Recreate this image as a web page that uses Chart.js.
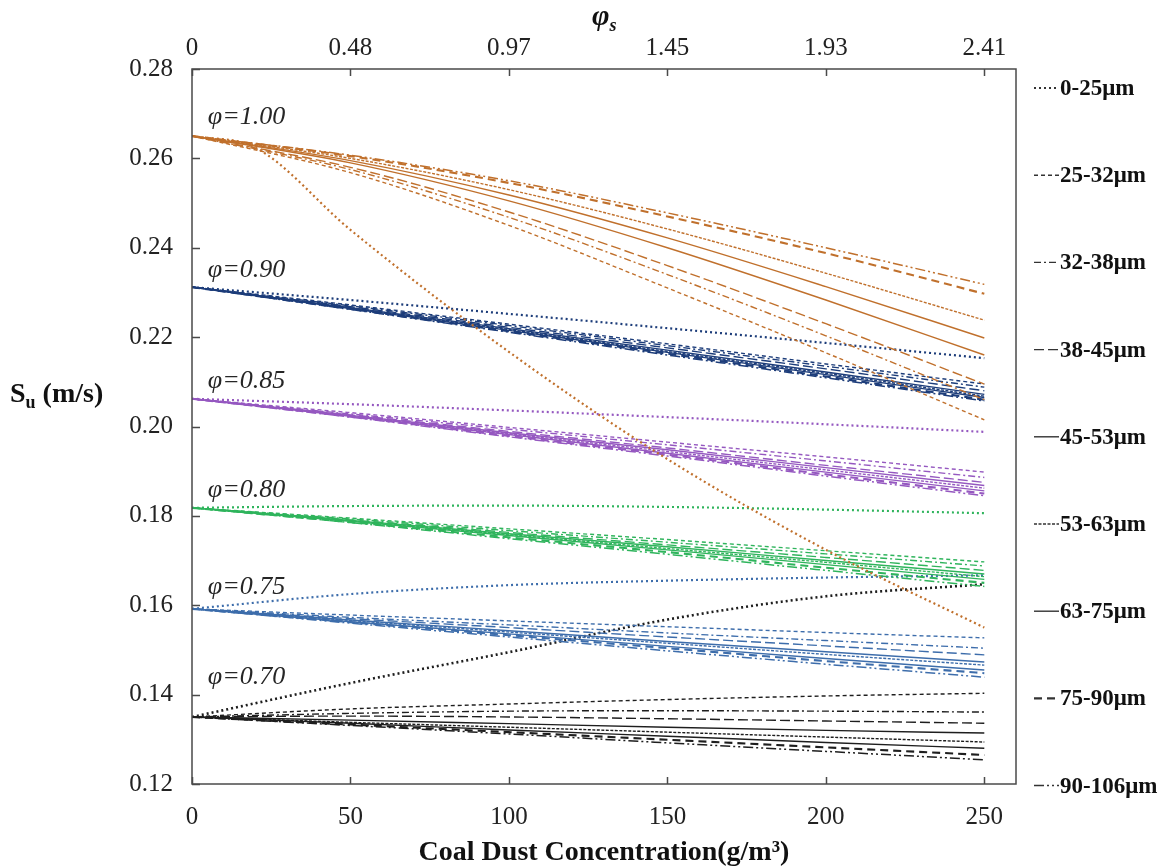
<!DOCTYPE html>
<html>
<head>
<meta charset="utf-8">
<script src="https://cdn.jsdelivr.net/npm/chart.js@4.4.0/dist/chart.umd.min.js"></script>
<style>
  html, body { margin: 0; padding: 0; background: #fff; }
  canvas { display: block; }
</style>
</head>
<body>
<canvas id="suChart" width="1161" height="867"></canvas>
<script>
// Concentration points (g/m3) and the matching phi_s ticks on the top axis
const conc = [0, 50, 100, 150, 200, 250];
const phiSTicks = ['0', '0.48', '0.97', '1.45', '1.93', '2.41'];
const yTicks = [0.12, 0.14, 0.16, 0.18, 0.20, 0.22, 0.24, 0.26, 0.28];

const sizes = ['0-25μm', '25-32μm', '32-38μm', '38-45μm', '45-53μm', '53-63μm', '63-75μm', '75-90μm', '90-106μm'];
const phiNames = ['φ=1.00', 'φ=0.90', 'φ=0.85', 'φ=0.80', 'φ=0.75', 'φ=0.70'];
const phiLabelY = [0.2693, 0.2350, 0.2102, 0.1858, 0.1641, 0.1440];

// the 0-25um curve at phi=1.00 bends early, so it has one extra point
const concFine = [0, 20, 50, 100, 150, 200, 250];
const su100Fine = [0.2650, 0.2624, 0.2440, 0.2167, 0.1927, 0.1724, 0.1550];

// Su (m/s), one row per particle size, columns follow conc
const su100 = [
    [0.2650, 0.2440, 0.2167, 0.1927, 0.1724, 0.1550],
    [0.2650, 0.2568, 0.2450, 0.2310, 0.2165, 0.2015],
    [0.2650, 0.2575, 0.2468, 0.2340, 0.2203, 0.2060],
    [0.2650, 0.2580, 0.2480, 0.2360, 0.2230, 0.2095],
    [0.2650, 0.2590, 0.2505, 0.2400, 0.2283, 0.2160],
    [0.2650, 0.2600, 0.2530, 0.2442, 0.2343, 0.2238],
    [0.2650, 0.2595, 0.2518, 0.2422, 0.2313, 0.2198],
    [0.2650, 0.2605, 0.2545, 0.2470, 0.2388, 0.2297],
    [0.2650, 0.2607, 0.2550, 0.2478, 0.2400, 0.2318]
];
const su090 = [
    [0.2312, 0.2283, 0.2252, 0.2220, 0.2187, 0.2153],
    [0.2312, 0.2272, 0.2229, 0.2185, 0.2140, 0.2095],
    [0.2312, 0.2270, 0.2226, 0.2181, 0.2135, 0.2088],
    [0.2312, 0.2268, 0.2222, 0.2176, 0.2129, 0.2080],
    [0.2312, 0.2266, 0.2219, 0.2171, 0.2122, 0.2072],
    [0.2312, 0.2265, 0.2217, 0.2168, 0.2119, 0.2068],
    [0.2312, 0.2264, 0.2215, 0.2166, 0.2116, 0.2065],
    [0.2312, 0.2263, 0.2213, 0.2163, 0.2112, 0.2060],
    [0.2312, 0.2262, 0.2211, 0.2160, 0.2109, 0.2057]
];
const su085 = [
    [0.2062, 0.2050, 0.2036, 0.2021, 0.2005, 0.1988],
    [0.2062, 0.2031, 0.1998, 0.1965, 0.1932, 0.1898],
    [0.2062, 0.2028, 0.1994, 0.1959, 0.1923, 0.1886],
    [0.2062, 0.2026, 0.1989, 0.1952, 0.1913, 0.1875],
    [0.2062, 0.2025, 0.1986, 0.1948, 0.1908, 0.1868],
    [0.2062, 0.2024, 0.1984, 0.1944, 0.1903, 0.1862],
    [0.2062, 0.2023, 0.1982, 0.1940, 0.1898, 0.1856],
    [0.2062, 0.2022, 0.1979, 0.1937, 0.1893, 0.1850],
    [0.2062, 0.2021, 0.1977, 0.1934, 0.1889, 0.1845]
];
const su080 = [
    [0.1818, 0.1822, 0.1823, 0.1820, 0.1814, 0.1806],
    [0.1818, 0.1795, 0.1771, 0.1747, 0.1722, 0.1697],
    [0.1818, 0.1793, 0.1767, 0.1741, 0.1715, 0.1688],
    [0.1818, 0.1791, 0.1763, 0.1735, 0.1707, 0.1678],
    [0.1818, 0.1790, 0.1760, 0.1731, 0.1700, 0.1670],
    [0.1818, 0.1789, 0.1758, 0.1727, 0.1696, 0.1664],
    [0.1818, 0.1788, 0.1756, 0.1724, 0.1691, 0.1658],
    [0.1818, 0.1786, 0.1752, 0.1719, 0.1684, 0.1650],
    [0.1818, 0.1785, 0.1749, 0.1714, 0.1678, 0.1642]
];
const su075 = [
    [0.1592, 0.1625, 0.1645, 0.1655, 0.1662, 0.1667],
    [0.1592, 0.1578, 0.1565, 0.1552, 0.1539, 0.1527],
    [0.1592, 0.1573, 0.1556, 0.1538, 0.1521, 0.1504],
    [0.1592, 0.1570, 0.1550, 0.1529, 0.1509, 0.1489],
    [0.1592, 0.1567, 0.1543, 0.1519, 0.1496, 0.1473],
    [0.1592, 0.1566, 0.1540, 0.1515, 0.1490, 0.1466],
    [0.1592, 0.1563, 0.1536, 0.1508, 0.1481, 0.1455],
    [0.1592, 0.1562, 0.1533, 0.1504, 0.1475, 0.1448],
    [0.1592, 0.1560, 0.1529, 0.1498, 0.1468, 0.1439]
];
const su070 = [
    [0.1350, 0.1426, 0.1495, 0.1568, 0.1620, 0.1647],
    [0.1350, 0.1368, 0.1379, 0.1389, 0.1397, 0.1403],
    [0.1350, 0.1358, 0.1363, 0.1364, 0.1363, 0.1361],
    [0.1350, 0.1352, 0.1350, 0.1346, 0.1341, 0.1336],
    [0.1350, 0.1343, 0.1335, 0.1327, 0.1320, 0.1314],
    [0.1350, 0.1338, 0.1327, 0.1316, 0.1305, 0.1294],
    [0.1350, 0.1336, 0.1321, 0.1307, 0.1293, 0.1280],
    [0.1350, 0.1333, 0.1316, 0.1299, 0.1282, 0.1265],
    [0.1350, 0.1331, 0.1312, 0.1292, 0.1273, 0.1254]
];

(function () {
    'use strict';

    const FONT = "'Liberation Serif', 'Times New Roman', serif";
    const groups = [su100, su090, su085, su080, su075, su070];
    const groupColors = ['#c0702c', '#1d3d7a', '#9558c0', '#2fb45c', '#3d6dab', '#1e1e1e'];

    // one line style per particle size
    const dashes = [
        [2, 3],
        [4, 3],
        [7, 3, 2, 3],
        [10, 4],
        [],
        [3, 1.5],
        [],
        [8, 5],
        [10, 3, 2, 3, 2, 3]
    ];
    const widths = [2.2, 1.4, 1.4, 1.4, 1.4, 1.4, 1.4, 2.1, 1.5];

    const datasets = [];
    groups.forEach(function (rows, gi) {
        rows.forEach(function (row, si) {
            let pts = row.map(function (v, k) { return { x: conc[k], y: v }; });
            if (gi === 0 && si === 0) {
                pts = su100Fine.map(function (v, k) { return { x: concFine[k], y: v }; });
            }
            datasets.push({
                label: phiNames[gi] + ' ' + sizes[si],
                data: pts,
                borderColor: groupColors[gi],
                borderDash: dashes[si],
                borderWidth: (gi === 5 && si === 0) ? 2.6 : widths[si],
                pointRadius: 0,
                cubicInterpolationMode: 'monotone',
                fill: false
            });
        });
    });

    // frame, inward ticks, phi labels, y title, top title and size legend
    const decorPlugin = {
        id: 'decor',
        afterDraw: function (chart) {
            const ctx = chart.ctx;
            const a = chart.chartArea;
            const sx = chart.scales.x;
            const sy = chart.scales.y;
            ctx.save();

            ctx.strokeStyle = '#4a4a4a';
            ctx.lineWidth = 1.5;
            ctx.setLineDash([]);
            ctx.strokeRect(a.left, a.top, a.right - a.left, a.bottom - a.top);
            ctx.beginPath();
            conc.forEach(function (v) {
                const px = Math.round(sx.getPixelForValue(v)) + 0.5;
                ctx.moveTo(px, a.bottom); ctx.lineTo(px, a.bottom - 7);
                ctx.moveTo(px, a.top); ctx.lineTo(px, a.top + 7);
            });
            yTicks.forEach(function (v) {
                const py = Math.round(sy.getPixelForValue(v)) + 0.5;
                ctx.moveTo(a.left, py); ctx.lineTo(a.left + 8, py);
            });
            ctx.stroke();

            // phi labels
            ctx.fillStyle = '#262626';
            ctx.font = 'italic 26px ' + FONT;
            ctx.textBaseline = 'middle';
            ctx.textAlign = 'left';
            phiNames.forEach(function (name, i) {
                ctx.fillText(name, sx.getPixelForValue(5), sy.getPixelForValue(phiLabelY[i]));
            });

            // y title  S_u (m/s)
            ctx.fillStyle = '#111';
            ctx.textBaseline = 'alphabetic';
            ctx.font = 'bold 28px ' + FONT;
            ctx.fillText('S', 10, 402);
            let w = ctx.measureText('S').width;
            ctx.font = 'bold 18px ' + FONT;
            ctx.fillText('u', 10 + w, 408);
            w += ctx.measureText('u').width;
            ctx.font = 'bold 28px ' + FONT;
            ctx.fillText(' (m/s)', 10 + w, 402);

            // top title  phi_s
            ctx.font = 'bold italic 30px ' + FONT;
            ctx.fillText('φ', 592, 25);
            const pw = ctx.measureText('φ').width;
            ctx.font = 'bold italic 18px ' + FONT;
            ctx.fillText('s', 592 + pw, 31);

            // particle size legend on the right
            ctx.font = 'bold 23px ' + FONT;
            ctx.textBaseline = 'middle';
            sizes.forEach(function (s, i) {
                const y = 88 + i * 87.2;
                ctx.strokeStyle = '#333';
                ctx.lineWidth = widths[i];
                ctx.setLineDash(dashes[i]);
                ctx.beginPath();
                ctx.moveTo(1034, y); ctx.lineTo(1059, y);
                ctx.stroke();
                ctx.fillStyle = '#111';
                ctx.fillText(s, 1060, y + 1);
            });

            ctx.restore();
        }
    };

    const tickFont = { family: FONT, size: 25 };

    new Chart(document.getElementById('suChart'), {
        type: 'line',
        data: { datasets: datasets },
        plugins: [decorPlugin],
        options: {
            responsive: false,
            animation: false,
            devicePixelRatio: 1,
            layout: { padding: { left: 0, right: 145, top: 0, bottom: 0 } },
            plugins: {
                legend: { display: false },
                tooltip: { enabled: false }
            },
            scales: {
                x: {
                    type: 'linear',
                    position: 'bottom',
                    min: 0,
                    max: 260,
                    afterBuildTicks: function (s) { s.ticks = conc.map(function (v) { return { value: v }; }); },
                    afterFit: function (s) { s.height = 83; },
                    grid: { display: false, drawTicks: false },
                    border: { display: false },
                    ticks: { padding: 18, font: tickFont, color: '#222', maxRotation: 0, autoSkip: false },
                    title: {
                        display: true,
                        text: 'Coal Dust Concentration(g/m³)',
                        color: '#111',
                        font: { family: FONT, size: 28, weight: 'bold', lineHeight: 1 },
                        padding: { top: 0, bottom: 0 }
                    }
                },
                x2: {
                    type: 'linear',
                    position: 'top',
                    min: 0,
                    max: 260,
                    afterBuildTicks: function (s) { s.ticks = conc.map(function (v) { return { value: v }; }); },
                    afterFit: function (s) { s.height = 69; },
                    grid: { display: false, drawTicks: false },
                    border: { display: false },
                    ticks: {
                        padding: 6, font: tickFont, color: '#222', maxRotation: 0, autoSkip: false,
                        callback: function (v, i) { return phiSTicks[i]; }
                    }
                },
                y: {
                    type: 'linear',
                    min: 0.12,
                    max: 0.28,
                    afterBuildTicks: function (s) { s.ticks = yTicks.map(function (v) { return { value: v }; }); },
                    afterFit: function (s) { s.width = 192; },
                    grid: { display: false, drawTicks: false },
                    border: { display: false },
                    ticks: {
                        padding: 19, font: tickFont, color: '#222',
                        callback: function (v) { return Number(v).toFixed(2); }
                    }
                }
            }
        }
    });
})();
</script>
</body>
</html>
